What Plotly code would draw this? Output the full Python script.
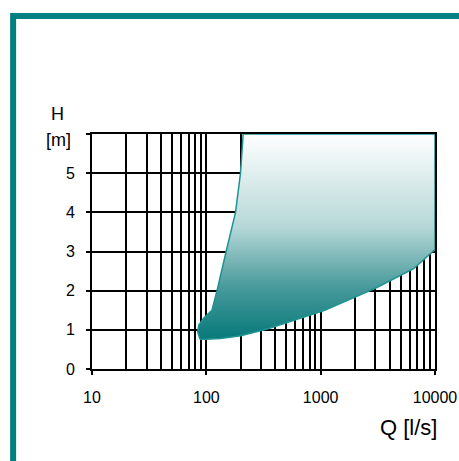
import plotly.graph_objects as go

# Operating range envelope (Q in l/s, H in m)
region_q = [88, 84, 86, 95, 112, 124, 149, 180, 199, 205, 210,
            10000, 10000, 6500, 3100, 1070, 340, 200, 133, 100, 88]
region_h = [0.76, 0.95, 1.12, 1.3, 1.5, 2.0, 3.0, 4.0, 5.0, 5.5, 6.0,
            6.0, 3.05, 2.56, 2.08, 1.49, 1.02, 0.85, 0.78, 0.76, 0.76]

x_tickvals = [10, 100, 1000, 10000]
x_ticktext = ["10", "100", "1000", "10000"]
y_tickvals = [0, 1, 2, 3, 4, 5, 6]
y_ticktext = ["0", "1", "2", "3", "4", "5", ""]

TEAL = "#008080"

fig = go.Figure()
fig.add_trace(go.Scatter(
    x=region_q, y=region_h, mode="lines", fill="toself",
    line=dict(color="#1f9393", width=1.5),
    fillgradient=dict(type="vertical",
                      colorscale=[[0, "#07797a"], [0.25, "#47999a"],
                                  [0.55, "#b7d8d8"], [1, "#ffffff"]]),
    hoverinfo="skip", showlegend=False,
))

# reference pixel coordinates of the plot area
L, R, T, B = 92, 435.5, 134, 369
W, H = 459, 461
def px(x):
    return (x - L) / (R - L)
def py(y):
    return (B - y) / (B - T)

fig.update_layout(
    width=W, height=H,
    margin=dict(l=L, r=W - R, t=T, b=H - B, pad=0),
    paper_bgcolor="white", plot_bgcolor="white",
    font=dict(family="Liberation Sans, Arial, sans-serif", size=16, color="black"),
    xaxis=dict(type="log", range=[1, 4], tickvals=x_tickvals, ticktext=x_ticktext,
               showgrid=True, gridcolor="black", gridwidth=2,
               minor=dict(dtick="D1", showgrid=True, gridcolor="black", gridwidth=2, ticks=""),
               showline=True, linecolor="black", linewidth=2, mirror=True,
               ticks="outside", ticklen=4, tickwidth=2, tickcolor="black",
               ticklabelstandoff=9, layer="below traces", zeroline=False,
               automargin=False, tickfont=dict(size=16)),
    yaxis=dict(range=[0, 6], tickvals=y_tickvals, ticktext=y_ticktext,
               showgrid=True, gridcolor="black", gridwidth=2,
               showline=True, linecolor="black", linewidth=2, mirror=True,
               ticks="outside", ticklen=4, tickwidth=2, tickcolor="black",
               ticklabelstandoff=8, layer="below traces", zeroline=False,
               automargin=False, tickfont=dict(size=16)),
    shapes=[dict(type="rect", xref="paper", yref="paper",
                 x0=px(13), x1=px(480), y0=py(480), y1=py(16),
                 line=dict(color=TEAL, width=6), fillcolor="rgba(0,0,0,0)",
                 layer="above")],
    annotations=[
        dict(text="H", x=px(57.5), y=py(114), xref="paper", yref="paper",
             showarrow=False, font=dict(size=18), xanchor="center", yanchor="middle"),
        dict(text="[m]", x=px(58), y=py(140), xref="paper", yref="paper",
             showarrow=False, font=dict(size=18), xanchor="center", yanchor="middle"),
        dict(text="Q [l/s]", x=px(409), y=py(427), xref="paper", yref="paper",
             showarrow=False, font=dict(size=22), xanchor="center", yanchor="middle"),
    ],
)

fig.write_html("out.html", config={"displayModeBar": False},
               post_script="document.body.style.margin='0';document.body.style.overflow='hidden';")
